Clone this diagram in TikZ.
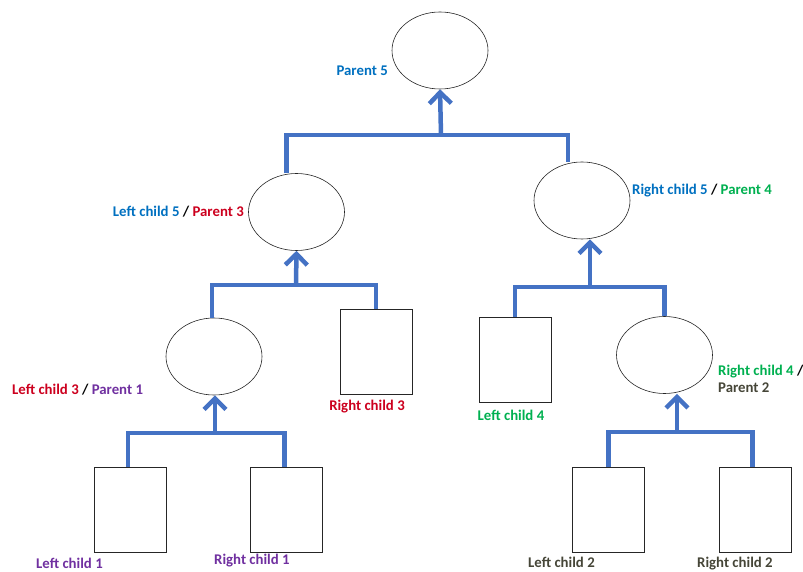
\documentclass[tikz,border=0pt]{standalone}
\usepackage{fontspec}
\setmainfont{Carlito}
\usepackage{tikz}
\usetikzlibrary{shapes.geometric, arrows.meta, positioning, calc}

\definecolor{linkblue}{RGB}{68,114,196}
\definecolor{tblue}{RGB}{0,112,192}
\definecolor{tred}{RGB}{204,0,30}
\definecolor{tpurple}{RGB}{112,48,160}
\definecolor{tgreen}{RGB}{0,176,80}
\definecolor{tdark}{RGB}{70,70,56}

\begin{document}
\begin{tikzpicture}[x=1pt, y=-1pt,
            inner/.style={ellipse, draw=black!85, semithick, minimum width=96pt, minimum height=77pt, inner sep=0pt},
            leaf/.style={rectangle, draw=black!85, semithick, minimum width=72pt, minimum height=85pt, inner sep=0pt},
            lbl/.style={font=\fontsize{14.8}{17}\selectfont\bfseries, inner sep=0pt, align=left},
            link/.style={draw=linkblue, line width=4.5pt},
            up/.style={link, -{Straight Barb[length=11pt, width=22pt]}}
        ]
            \useasboundingbox (0,0) rectangle (803,572);

% Nodes of the tree
            \node[inner] (par5) at (440,50.5) {};
            \node[inner] (lc5) at (296.5,212) {};
            \node[inner] (rc5) at (582,200.5) {};
            \node[inner] (lc3) at (214,356.5) {};
            \node[leaf] (rc3) at (376,352) {};
            \node[leaf] (lc4) at (515,360) {};
            \node[inner] (rc4) at (664.5,355) {};
            \node[leaf] (lc1) at (130,509.5) {};
            \node[leaf] (rc1) at (286.5,509.5) {};
            \node[leaf] (lc2) at (608.5,509.5) {};
            \node[leaf] (rc2) at (755.5,509.5) {};

% Labels
            \node[lbl, anchor=east] (t_par5) at (388,71) {\color{tblue}Parent 5};
            \node[lbl, anchor=east] (t_lc5) at (244,212) {\color{tblue}Left child 5 \color{black}/ \color{tred}Parent 3};
            \node[lbl, anchor=west] (t_rc5) at (632,191) {\color{tblue}Right child 5 \color{black}/ \color{tgreen}Parent 4};
            \node[lbl, anchor=west] (t_lc3) at (12,390) {\color{tred}Left child 3 \color{black}/ \color{tpurple}Parent 1};
            \node[lbl] (t_rc3) at (367,407) {\color{tred}Right child 3};
            \node[lbl] (t_lc4) at (511,415) {\color{tgreen}Left child 4};
            \node[lbl, anchor=north west] (t_rc4) at (718,365) {\color{tgreen}Right child 4 \color{black}/\\\color{tdark}Parent 2};
            \node[lbl, anchor=west] (t_lc1) at (36,563.5) {\color{tpurple}Left child 1};
            \node[lbl, anchor=west] (t_rc1) at (214,561) {\color{tpurple}Right child 1};
            \node[lbl, anchor=west] (t_lc2) at (528,562) {\color{tdark}Left child 2};
            \node[lbl, anchor=west] (t_rc2) at (697,563.5) {\color{tdark}Right child 2};

% Junctions
            \coordinate (j5) at (441,135);
            \coordinate (j3) at (296,285);
            \coordinate (j4) at (590,287);
            \coordinate (j1) at (215,433);
            \coordinate (j2) at (677,432);

% Connectors
            \draw[link] ([xshift=-10pt]lc5.north) |- (j5) -| ([xshift=-14pt]rc5.north);
            \draw[up] (j5) -- (par5.south);
            \draw[link] ([xshift=-2pt]lc3.north) |- (j3) -| (rc3.north);
            \draw[up] (j3) -- (lc5.south);
            \draw[link] ([xshift=-2pt]lc1.north) |- (j1) -| ([xshift=-2pt]rc1.north);
            \draw[up] (j1) -- ([xshift=1pt]lc3.south);
            \draw[link] (lc4.north) |- (j4) -| (rc4.north);
            \draw[up] (j4) -- ([xshift=8pt]rc5.south);
            \draw[link] (lc2.north) |- (j2) -| ([xshift=-3pt]rc2.north);
            \draw[up] (j2) -- ([xshift=12.5pt]rc4.south);

        \end{tikzpicture}
\end{document}
